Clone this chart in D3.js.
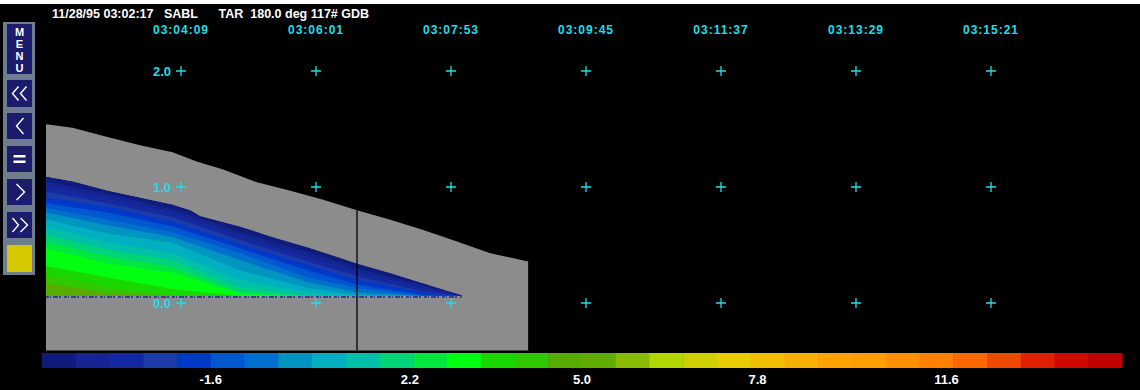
<!DOCTYPE html>
<html>
<head>
<meta charset="utf-8">
<script src="https://cdn.jsdelivr.net/npm/d3@7"></script>
<style>
  html, body { margin: 0; padding: 0; background: #000; }
  svg { display: block; }
  text { font-family: "Liberation Sans", Arial, Helvetica, sans-serif; font-weight: bold; }
</style>
</head>
<body>
<svg id="chart" width="1140" height="390"></svg>
<script>
// header / axes
var headerText = "11/28/95 03:02:17   SABL      TAR  180.0 deg 117# GDB";
var startTime = "03:02:17";
var timeTicks = ["03:04:09", "03:06:01", "03:07:53", "03:09:45", "03:11:37", "03:13:29", "03:15:21"];
var heightTicks = [0.0, 1.0, 2.0];

// top of returned signal (grey area), seconds after start / km
var echoTopSec = [0, 22, 51, 78, 105, 125, 147, 175, 202, 230, 258, 285, 313, 341, 368, 399, 400];
var echoTopKm  = [1.54, 1.51, 1.43, 1.36, 1.30, 1.22, 1.15, 1.04, 0.97, 0.89, 0.80, 0.72, 0.63, 0.53, 0.43, 0.36, 0.36];
var echoBottomKm = -0.41;

// top of the coloured layer
var layerTopSec = [0, 22, 51, 78, 105, 120, 128, 161, 188, 217, 244, 258, 285, 313, 335, 345];
var layerTopKm  = [1.09, 1.05, 0.97, 0.91, 0.85, 0.80, 0.75, 0.66, 0.57, 0.48, 0.39, 0.34, 0.26, 0.17, 0.10, 0.07];
var layerBaseKm = 0.06;

// tops of the colour steps 1..15 (km) at a few times
var bandSec = [0, 51, 105, 161, 217, 258, 313, 345];
var bandTopKm = [
  [1.05, 0.94, 0.81, 0.61, 0.44, 0.30, 0.15, 0.06],
  [1.01, 0.91, 0.78, 0.58, 0.40, 0.27, 0.13, 0.06],
  [0.96, 0.86, 0.74, 0.54, 0.36, 0.23, 0.10, 0.06],
  [0.91, 0.83, 0.70, 0.51, 0.33, 0.20, 0.09, 0.06],
  [0.86, 0.78, 0.66, 0.47, 0.28, 0.16, 0.07, 0.06],
  [0.82, 0.72, 0.61, 0.43, 0.22, 0.13, 0.06, 0.06],
  [0.78, 0.67, 0.57, 0.37, 0.18, 0.09, 0.06, 0.06],
  [0.72, 0.60, 0.52, 0.28, 0.13, 0.07, 0.06, 0.06],
  [0.66, 0.52, 0.43, 0.20, 0.09, 0.06, 0.06, 0.06],
  [0.59, 0.46, 0.37, 0.13, 0.06, 0.06, 0.06, 0.06],
  [0.53, 0.40, 0.31, 0.09, 0.06, 0.06, 0.06, 0.06],
  [0.47, 0.34, 0.26, 0.08, 0.06, 0.06, 0.06, 0.06],
  [0.32, 0.22, 0.12, 0.06, 0.06, 0.06, 0.06, 0.06],
  [0.25, 0.14, 0.07, 0.06, 0.06, 0.06, 0.06, 0.06],
  [0.17, 0.09, 0.06, 0.06, 0.06, 0.06, 0.06, 0.06]
];
var markerSec = 258;
var markerTopKm = 0.80;

// colour bar
var legendColors = ["#101c7c", "#142490", "#1428a0", "#1c3ca8", "#0038c8", "#0058d0", "#0070cc", "#0094c0",
  "#00b0c0", "#00c0a8", "#00d478", "#00e840", "#00ff10", "#18d800", "#30c800", "#58ac00",
  "#60ac00", "#88bc00", "#b0d800", "#d0d000", "#e8cc00", "#f0c000", "#f8b000", "#ffa400",
  "#ffa000", "#ff9000", "#ff8000", "#ff6800", "#f04800", "#e02000", "#d00800", "#c00000"];
var legendTickLabels = ["-1.6", "2.2", "5.0", "7.8", "11.6"];
var legendTickSlots = [5, 10.9, 16, 21.2, 26.8];

var cyan = "#22dde8";
var svg = d3.select("#chart");

svg.append("rect").attr("width", 1140).attr("height", 390).attr("fill", "#000");
svg.append("rect").attr("width", 1140).attr("height", 4).attr("fill", "#fff");

// scales
var parseTime = d3.timeParse("%H:%M:%S");
var t0 = parseTime(startTime);
function atSec(s) { return d3.timeSecond.offset(t0, s); }
var tickDates = timeTicks.map(parseTime);

var xScale = d3.scaleTime()
  .domain([tickDates[0], tickDates[tickDates.length - 1]])
  .range([181, 991]);
var yScale = d3.scaleLinear()
  .domain([0, 2])
  .range([303, 71]);

// grey echo area
var echo = echoTopSec.map(function (s, i) { return { t: atSec(s), top: echoTopKm[i] }; });
svg.append("path")
  .datum(echo)
  .attr("d", d3.area()
    .x(function (d) { return xScale(d.t); })
    .y0(yScale(echoBottomKm))
    .y1(function (d) { return yScale(d.top); }))
  .attr("fill", "#8c8c8c");

// coloured layer
var layer = layerTopSec.map(function (s, i) { return { t: atSec(s), top: layerTopKm[i] }; });
var layerArea = d3.area()
  .x(function (d) { return xScale(d.t); })
  .y0(yScale(layerBaseKm))
  .y1(function (d) { return yScale(d.top); });

svg.append("clipPath").attr("id", "layerClip")
  .append("path").datum(layer).attr("d", layerArea);

var bands = svg.append("g").attr("clip-path", "url(#layerClip)");
bands.append("path").datum(layer).attr("d", layerArea).attr("fill", legendColors[0]);

bandTopKm.forEach(function (row, k) {
  var pts = row.map(function (h, i) { return { t: atSec(bandSec[i]), top: h }; });
  bands.append("path")
    .datum(pts)
    .attr("d", layerArea)
    .attr("fill", legendColors[k + 1]);
});

// speckled ground return
svg.append("line")
  .attr("x1", xScale(atSec(0))).attr("x2", xScale(atSec(345)))
  .attr("y1", yScale(layerBaseKm) + 1).attr("y2", yScale(layerBaseKm) + 1)
  .attr("stroke", "#1a2a9a").attr("stroke-width", 1.5)
  .attr("stroke-dasharray", "3,1,1,2,5,1,2,3");

// time marker
svg.append("line")
  .attr("x1", xScale(atSec(markerSec))).attr("x2", xScale(atSec(markerSec)))
  .attr("y1", yScale(markerTopKm)).attr("y2", yScale(echoBottomKm))
  .attr("stroke", "#000").attr("stroke-width", 1.3);

// grid crosses
var crossData = [];
tickDates.forEach(function (d) { heightTicks.forEach(function (h) { crossData.push({ t: d, h: h }); }); });
svg.append("g").selectAll("path")
  .data(crossData)
  .enter()
  .append("path")
  .attr("d", function (d) {
    var x = xScale(d.t), y = yScale(d.h);
    return "M" + (x - 5) + "," + y + "H" + (x + 5) + "M" + x + "," + (y - 5) + "V" + (y + 5);
  })
  .attr("stroke", cyan)
  .attr("stroke-width", 1.3)
  .attr("fill", "none");

// time labels
svg.append("g").selectAll("text")
  .data(tickDates)
  .enter()
  .append("text")
  .attr("x", function (d) { return xScale(d); })
  .attr("y", 34)
  .attr("text-anchor", "middle")
  .style("font-size", "12px")
  .style("letter-spacing", "1px")
  .attr("fill", cyan)
  .text(function (d, i) { return timeTicks[i]; });

// height labels
svg.append("g").selectAll("text")
  .data(heightTicks)
  .enter()
  .append("text")
  .attr("x", xScale(tickDates[0]) - 10)
  .attr("y", function (d) { return yScale(d) + 5; })
  .attr("text-anchor", "end")
  .style("font-size", "13px")
  .attr("fill", cyan)
  .text(function (d) { return d.toFixed(1); });

// header
svg.append("text")
  .attr("x", 52)
  .attr("y", 18)
  .style("font-size", "12.5px")
  .style("white-space", "pre")
  .attr("fill", "#fff")
  .text(headerText);

// colour bar
var slotScale = d3.scaleLinear().domain([0, legendColors.length]).range([42, 1122]);
svg.append("g").selectAll("rect")
  .data(legendColors)
  .enter()
  .append("rect")
  .attr("x", function (d, i) { return slotScale(i); })
  .attr("y", 353)
  .attr("width", slotScale(1) - slotScale(0) + 0.5)
  .attr("height", 15)
  .attr("fill", function (d) { return d; });

svg.append("g").selectAll("text")
  .data(legendTickLabels)
  .enter()
  .append("text")
  .attr("x", function (d, i) { return slotScale(legendTickSlots[i]); })
  .attr("y", 384)
  .attr("text-anchor", "middle")
  .style("font-size", "13px")
  .attr("fill", "#fff")
  .text(function (d) { return d; });

// left button panel
var panel = svg.append("g");
panel.append("rect").attr("x", 3).attr("y", 22).attr("width", 32).attr("height", 253).attr("fill", "#6e7e8e");
var buttons = [
  { y: 24, h: 50, kind: "menu" },
  { y: 80, h: 27, kind: "rew" },
  { y: 113, h: 26, kind: "back" },
  { y: 146, h: 26, kind: "stop" },
  { y: 179, h: 26, kind: "fwd" },
  { y: 212, h: 26, kind: "ff" },
  { y: 245, h: 27, kind: "color" }
];
buttons.forEach(function (b) {
  panel.append("rect").attr("x", 7).attr("y", b.y).attr("width", 25).attr("height", b.h)
    .attr("fill", b.kind === "color" ? "#d4c800" : "#1c1c6c");
  var cx = 19.5, cy = b.y + b.h / 2;
  var g = panel.append("g").attr("stroke", "#fff").attr("stroke-width", 1.4).attr("fill", "none");
  if (b.kind === "menu") {
    panel.append("text")
      .attr("x", cx)
      .attr("y", b.y + 2)
      .style("writing-mode", "vertical-rl")
      .style("text-orientation", "upright")
      .style("font-size", "11px")
      .attr("fill", "#fff")
      .text("MENU");
  } else if (b.kind === "rew") {
    g.append("path").attr("d", "M" + (cx - 1) + "," + (cy - 7) + "L" + (cx - 7) + "," + cy + "L" + (cx - 1) + "," + (cy + 7));
    g.append("path").attr("d", "M" + (cx + 7) + "," + (cy - 7) + "L" + (cx + 1) + "," + cy + "L" + (cx + 7) + "," + (cy + 7));
  } else if (b.kind === "back") {
    g.append("path").attr("d", "M" + (cx + 4) + "," + (cy - 8) + "L" + (cx - 3) + "," + cy + "L" + (cx + 4) + "," + (cy + 8));
  } else if (b.kind === "stop") {
    panel.append("rect").attr("x", cx - 6).attr("y", cy - 4).attr("width", 12).attr("height", 2.5).attr("fill", "#fff");
    panel.append("rect").attr("x", cx - 6).attr("y", cy + 1.5).attr("width", 12).attr("height", 2.5).attr("fill", "#fff");
  } else if (b.kind === "fwd") {
    g.append("path").attr("d", "M" + (cx - 3) + "," + (cy - 8) + "L" + (cx + 5) + "," + cy + "L" + (cx - 3) + "," + (cy + 8));
  } else if (b.kind === "ff") {
    g.append("path").attr("d", "M" + (cx - 7) + "," + (cy - 7) + "L" + (cx - 1) + "," + cy + "L" + (cx - 7) + "," + (cy + 7));
    g.append("path").attr("d", "M" + (cx + 1) + "," + (cy - 7) + "L" + (cx + 8) + "," + cy + "L" + (cx + 1) + "," + (cy + 7));
  }
});
</script>
</body>
</html>
